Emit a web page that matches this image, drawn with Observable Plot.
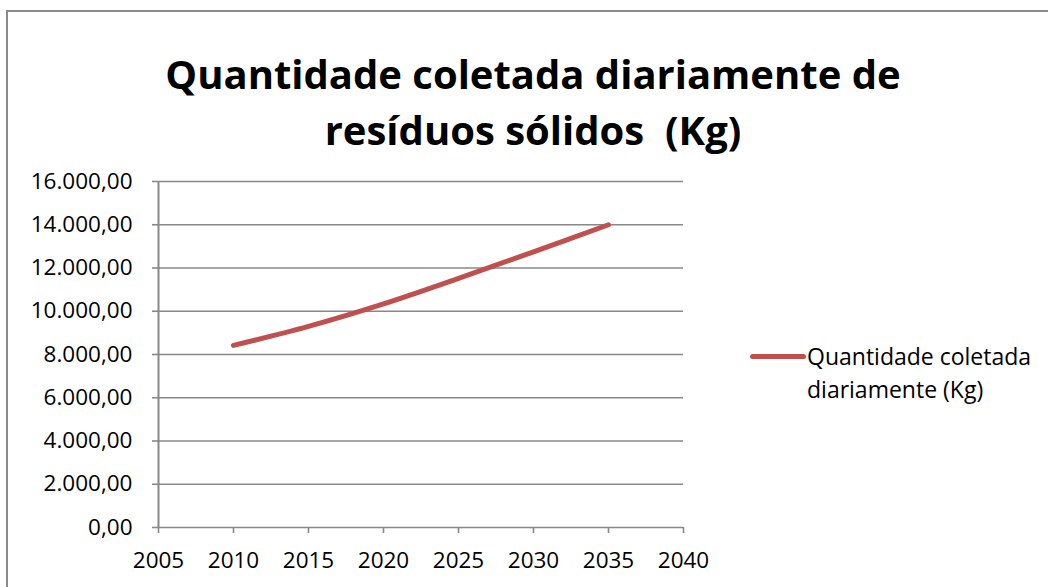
<!DOCTYPE html>
<html>
<head>
<meta charset="utf-8">
<script src="https://cdn.jsdelivr.net/npm/d3@7"></script>
<script src="https://cdn.jsdelivr.net/npm/@observablehq/plot@0.6"></script>
<style>
  html, body { margin: 0; padding: 0; background: #fff; overflow: hidden; }
  #wrap { position: relative; width: 1048px; height: 587px; overflow: hidden; font-family: "Open Sans", sans-serif; }
  #frame { position: absolute; left: 6px; top: 10px; width: 1100px; height: 700px; border: 2px solid #8a8a8a; box-sizing: border-box; }
  .title { position: absolute; left: 0; width: 1066px; text-align: center; font-weight: 700; font-size: 40px; line-height: 40px; height: 40px; color: #000; white-space: nowrap; }
  #t1 { top: 54px; }
  #t2 { top: 110px; }
  #chart { position: absolute; left: 0; top: 0; }
  #legend { position: absolute; left: 750px; top: 340px; font-size: 23px; line-height: 33px; color: #000; }
  #legend .sw { position: absolute; left: 0; top: 14px; width: 56px; height: 5px; border-radius: 3px; background: #C0504D; }
  #legend .tx { position: absolute; left: 57px; top: 0; white-space: nowrap; }
</style>
</head>
<body>
<div id="wrap">
  <div id="frame"></div>
  <div id="chart"></div>
  <div class="title" id="t1">Quantidade coletada diariamente de</div>
  <div class="title" id="t2">resíduos sólidos&nbsp; (Kg)</div>
  <div id="legend"><div class="sw"></div><div class="tx">Quantidade coletada<br>diariamente (Kg)</div></div>
</div>
<script>
const years = [2010, 2015, 2020, 2025, 2030, 2035];
const values = [8420, 9300, 10340, 11520, 12750, 14000];
const xTicks = [2005, 2010, 2015, 2020, 2025, 2030, 2035, 2040];
const yTicks = [0, 2000, 4000, 6000, 8000, 10000, 12000, 14000, 16000];
const seriesName = "Quantidade coletada diariamente (Kg)";

const data = years.map((y, i) => ({year: y, value: values[i], series: seriesName}));
const fmt = d3.formatLocale({decimal: ",", thousands: ".", grouping: [3], currency: ["", ""]}).format(",.2f");

const chart = Plot.plot({
  width: 1048,
  height: 587,
  marginLeft: 158,
  marginRight: 365,
  marginTop: 181,
  marginBottom: 60,
  style: {fontFamily: "Open Sans", fontSize: "22.5px", color: "#000", background: "transparent", overflow: "visible"},
  x: {domain: [2005, 2040], label: null},
  y: {domain: [0, 16000], label: null},
  marks: [
    Plot.gridY(yTicks, {stroke: "#888", strokeOpacity: 1, strokeWidth: 1.6}),
    Plot.ruleX([2005], {y1: 0, y2: 16000, stroke: "#888", strokeWidth: 2}),
    Plot.axisY({ticks: yTicks, tickFormat: fmt, tickSize: 6, tickPadding: 20, stroke: "#888", strokeWidth: 1.6, strokeOpacity: 1, fill: "#000", label: null}),
    Plot.axisX({ticks: xTicks, tickFormat: d => String(d), tickSize: 6, tickPadding: 19, stroke: "#888", strokeWidth: 1.6, strokeOpacity: 1, fill: "#000", label: null}),
    Plot.line(data, {x: "year", y: "value", stroke: "#C0504D", strokeWidth: 5, curve: "catmull-rom", strokeLinecap: "round"})
  ]
});
document.getElementById("chart").appendChild(chart);
</script>
</body>
</html>
